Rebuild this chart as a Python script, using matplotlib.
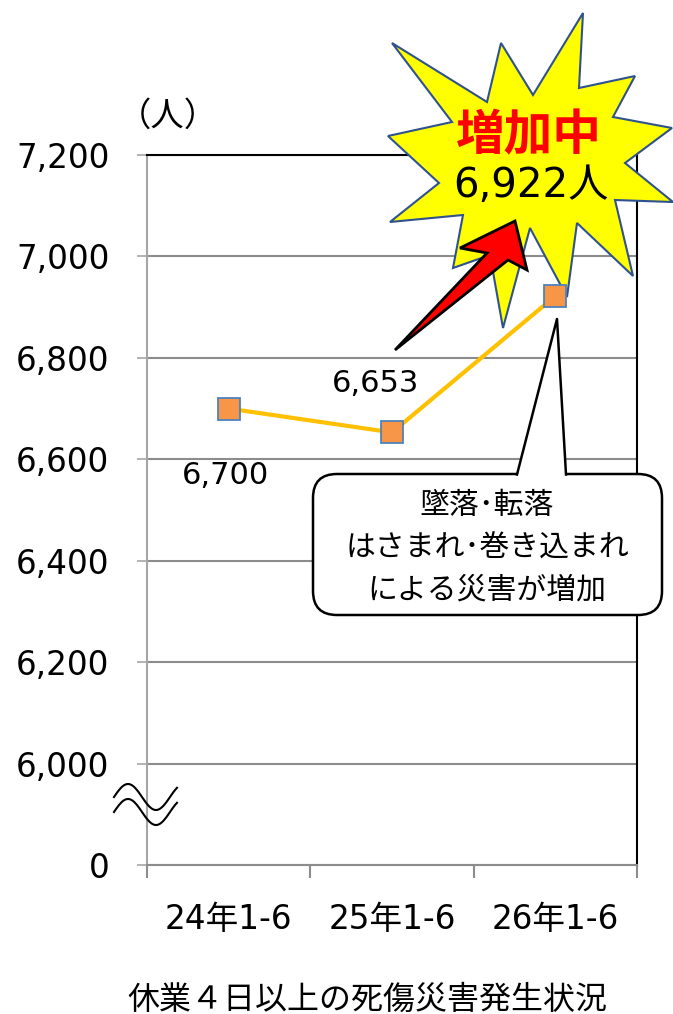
import matplotlib
matplotlib.use("Agg")
import matplotlib.pyplot as plt
import matplotlib.transforms as mtransforms
from matplotlib.patches import Polygon, FancyBboxPatch
import numpy as np

plt.rcParams['font.family'] = ['DejaVu Sans', 'Noto Sans CJK JP']

# data
periods = ['24年1-6', '25年1-6', '26年1-6']
casualties = [6700, 6653, 6922]
y_ticks = [0, 6000, 6200, 6400, 6600, 6800, 7000, 7200]
BREAK_AT = 5800  # "0" sits one grid step under 6,000 (broken axis)

callout_lines = ['墜落･転落', 'はさまれ･巻き込まれ', 'による災害が増加']


def to_axis(v):
    return BREAK_AT if v == 0 else v


W, H = 673, 1014
fig = plt.figure(figsize=(W / 100, H / 100), dpi=100)
ax = fig.add_axes([147 / W, 1 - 865 / H, 490 / W, 710 / H])

# pixel coords (origin top-left) for the drawn-on shapes
px = mtransforms.Affine2D().scale(1 / W, -1 / H).translate(0, 1) + fig.transFigure

x = np.arange(len(periods))
ax.plot(x, casualties, color='#FFC000', lw=3, zorder=4)
ax.plot(x, casualties, ls='none', marker='s', ms=15.5, mfc='#F79646',
        mec='#4F81BD', mew=1.3, zorder=5)

ax.annotate(f'{casualties[0]:,}', (x[0], casualties[0]), xytext=(-2, -48),
            textcoords='offset points', ha='center', va='center', fontsize=22)
ax.annotate(f'{casualties[1]:,}', (x[1], casualties[1]), xytext=(-12, 35),
            textcoords='offset points', ha='center', va='center', fontsize=22)

# axes styling
ax.yaxis.grid(True, color='#8C8C8C', lw=1.5)
ax.set_axisbelow(True)
ax.spines['left'].set_color('#A6A6A6')
ax.spines['bottom'].set_color('#8C8C8C')
ax.spines['top'].set_color('black')
ax.spines['right'].set_color('black')
for s in ax.spines.values():
    s.set_linewidth(1.5)

ax.set_yticks([to_axis(v) for v in y_ticks])
ax.set_yticklabels([f'{v:,}' for v in y_ticks])
ax.tick_params(axis='y', length=7, width=1.2, color='#A6A6A6', pad=20, labelsize=23.5)
ax.set_xticks(x)
ax.set_xticklabels(periods)
ax.tick_params(axis='x', length=0, pad=27, labelsize=23.5)
ax.set_xticks(np.arange(-0.5, len(periods), 1), minor=True)
ax.tick_params(axis='x', which='minor', length=9, width=1.5, color='#8C8C8C')

# starburst
star = [(392, 43), (487, 102), (501, 43), (533, 95), (583, 13), (579, 88),
        (635, 76), (613, 117), (672, 128), (625, 163), (673, 202), (615, 200),
        (633, 276), (577, 223), (567, 297), (530, 228), (503, 328), (490, 255),
        (453, 268), (463, 215), (390, 222), (439, 183), (388, 136), (452, 122)]
ax.add_patch(Polygon(star, closed=True, fc='#FFFF00', ec='#2F528F', lw=1.5,
                     transform=px, clip_on=False, zorder=3))
ax.text(529, 136, '増加中', transform=px, color='#FF0000', fontsize=35,
        fontweight='bold', ha='center', va='center', family='Noto Sans CJK JP', zorder=8)
ax.text(531, 186, f'{casualties[2]:,}人', transform=px, color='black', fontsize=29,
        ha='center', va='center', zorder=8)

# red arrow
arrow = [(395, 350), (487, 253), (460, 248), (515, 221), (527, 270), (508, 260)]
ax.add_patch(Polygon(arrow, closed=True, fc='#FF0000', ec='black', lw=2,
                     joinstyle='miter', transform=px, clip_on=False, zorder=6))

# callout box
ax.add_patch(FancyBboxPatch((313, 474), 349, 141,
                            boxstyle='round,pad=0,rounding_size=24',
                            fc='white', ec='black', lw=1.8,
                            transform=px, clip_on=False, zorder=6))
ax.add_patch(Polygon([(517, 478), (557, 319), (566, 478)], closed=True,
                     fc='white', ec='none', transform=px, clip_on=False, zorder=6.1))
ax.plot([517, 557, 566], [474.5, 319, 474.5], color='black', lw=1.8,
        transform=px, clip_on=False, zorder=6.2)
for yy, line in zip([506, 548, 590], callout_lines):
    ax.text(487, yy, line, transform=px, fontsize=21.5, ha='center', va='center',
            family='Noto Sans CJK JP', zorder=7)

# axis break mark
wx = np.linspace(114, 177, 80)
wy = 797 - 13 * np.sin(2 * np.pi * (wx - 114) / 56)
ax.plot(wx, wy, color='black', lw=1.5, transform=px, clip_on=False, zorder=7)
ax.plot(wx, wy + 15, color='black', lw=1.5, transform=px, clip_on=False, zorder=7)

ax.set_xlim(-0.5, len(periods) - 0.5)
ax.set_ylim(BREAK_AT, 7200)

fig.text(168 / W, 1 - 116 / H, '（人）', ha='center', va='center', fontsize=24,
         family='Noto Sans CJK JP')
fig.text(367 / W, 1 - 1000 / H, '休業４日以上の死傷災害発生状況', ha='center',
         va='center', fontsize=23, family='Noto Sans CJK JP')

fig.savefig('out.png', dpi=100)
